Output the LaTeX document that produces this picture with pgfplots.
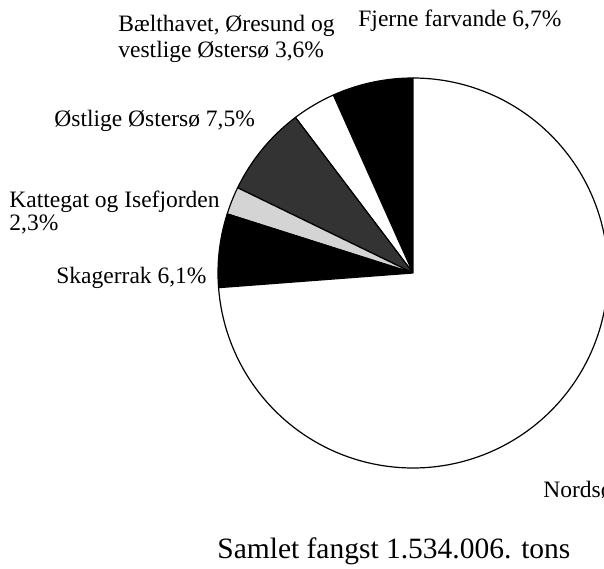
\documentclass[border=0pt]{standalone}
\usepackage{fontspec}
\setmainfont{Liberation Serif}
\usepackage{pgfplots}
\pgfplotsset{compat=1.18}
\definecolor{dgray}{HTML}{333333}
\definecolor{lgray}{HTML}{D4D4D4}

% shares in percent, counterclockwise from 12 o'clock
\def\pFjerne{6.7}
\def\pBaelt{3.6}
\def\pOstl{7.5}
\def\pKatt{2.3}
\def\pSkag{6.1}
\def\pNord{73.8}

\begin{document}
\begin{tikzpicture}
% centre and radius in pixel units of the axis
\def\cx{413}
\def\cy{273}
\def\r{195}
\pgfmathsetmacro\aA{90}
\pgfmathsetmacro\aB{\aA+3.6*\pFjerne}
\pgfmathsetmacro\aC{\aB+3.6*\pBaelt}
\pgfmathsetmacro\aD{\aC+3.6*\pOstl}
\pgfmathsetmacro\aE{\aD+3.6*\pKatt}
\pgfmathsetmacro\aF{\aE+3.6*\pSkag}
\pgfmathsetmacro\aG{\aF+3.6*\pNord}
\begin{axis}[
    at={(0,0)}, anchor=south west,
    width=302bp, height=284.5bp, scale only axis,
    xmin=0, xmax=604, ymin=0, ymax=569, y dir=reverse,
    hide axis, clip=false]
  \pgfplotsset{wedge/.style={draw=black, line width=0.6bp, line join=round}}
  \addplot[wedge, fill=black, domain=\aA:\aB, samples=20] ({\cx+\r*cos(x)}, {\cy-\r*sin(x)}) -- (axis cs:\cx,\cy) -- cycle;
  \addplot[wedge, fill=white, domain=\aB:\aC, samples=15] ({\cx+\r*cos(x)}, {\cy-\r*sin(x)}) -- (axis cs:\cx,\cy) -- cycle;
  \addplot[wedge, fill=dgray, domain=\aC:\aD, samples=20] ({\cx+\r*cos(x)}, {\cy-\r*sin(x)}) -- (axis cs:\cx,\cy) -- cycle;
  \addplot[wedge, fill=lgray, domain=\aD:\aE, samples=10] ({\cx+\r*cos(x)}, {\cy-\r*sin(x)}) -- (axis cs:\cx,\cy) -- cycle;
  \addplot[wedge, fill=black, domain=\aE:\aF, samples=20] ({\cx+\r*cos(x)}, {\cy-\r*sin(x)}) -- (axis cs:\cx,\cy) -- cycle;
  \addplot[wedge, fill=white, domain=\aF:\aG, samples=150] ({\cx+\r*cos(x)}, {\cy-\r*sin(x)}) -- (axis cs:\cx,\cy) -- cycle;

  \begin{scope}[every node/.style={anchor=base west, inner sep=0pt, font=\fontsize{11.8}{13}\selectfont}]
    \node at (axis cs:118,32) {Bælthavet, Øresund og};
    \node at (axis cs:118,58) {vestlige Østersø 3,6\%};
    \node at (axis cs:358,27) {Fjerne farvande 6,7\%};
    \node at (axis cs:54,126) {Østlige Østersø 7,5\%};
    \node at (axis cs:9,207) {Kattegat og Isefjorden};
    \node at (axis cs:9,230) {2,3\%};
    \node at (axis cs:56,283) {Skagerrak 6,1\%};
    \node at (axis cs:543,497) {Nordsøen 73,8\%};
  \end{scope}
  \node[anchor=base west, inner sep=0pt, font=\fontsize{14.8}{17}\selectfont] at (axis cs:217,558) {Samlet fangst 1.534.006. tons};
\end{axis}
\pgfresetboundingbox
\path[use as bounding box] (0,0) rectangle (302bp,284.5bp);
\end{tikzpicture}
\end{document}
